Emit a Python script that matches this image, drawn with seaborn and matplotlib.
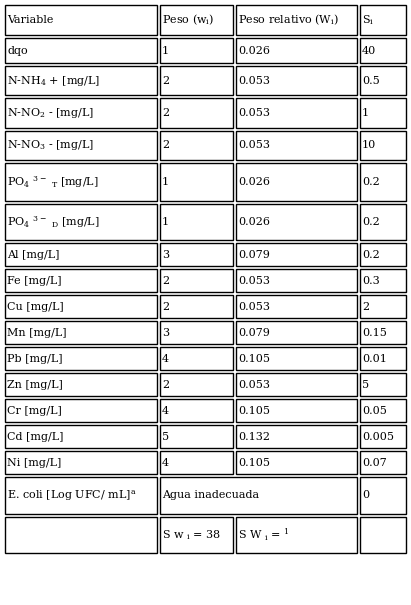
import matplotlib
matplotlib.use("Agg")
import matplotlib.pyplot as plt
import seaborn as sns
from matplotlib.patches import Rectangle

sns.set_style("white")
plt.rcParams['font.family'] = ['DejaVu Serif']
plt.rcParams['mathtext.default'] = 'regular'

# table content
variables = ["Variable", "dqo", "N-NH$_4$ + [mg/L]", "N-NO$_2$ - [mg/L]", "N-NO$_3$ - [mg/L]",
             "PO$_4$ $^{3-}$ $_T$ [mg/L]", "PO$_4$ $^{3-}$ $_D$ [mg/L]",
             "Al [mg/L]", "Fe [mg/L]", "Cu [mg/L]", "Mn [mg/L]", "Pb [mg/L]", "Zn [mg/L]",
             "Cr [mg/L]", "Cd [mg/L]", "Ni [mg/L]", "E. coli [Log UFC/ mL]$^a$", ""]
peso = ["Peso (w$_i$)", "1", "2", "2", "2", "1", "1", "3", "2", "2", "3", "4", "2", "4", "5", "4",
        "Agua inadecuada", "S w $_i$ = 38"]
peso_rel = ["Peso relativo (W$_i$)", "0.026", "0.053", "0.053", "0.053", "0.026", "0.026",
            "0.079", "0.053", "0.053", "0.079", "0.105", "0.053", "0.105", "0.132", "0.105",
            None, "S W $_i$ = $^1$"]
s_i = ["S$_i$", "40", "0.5", "1", "10", "0.2", "0.2", "0.2", "0.3", "2", "0.15", "0.01", "5",
       "0.05", "0.005", "0.07", "0", ""]

# layout (pixels)
col_edges = [(5, 157), (160, 233), (236, 357), (360, 406)]
row_edges = [(5, 35), (38, 63), (66, 95), (98, 128), (131, 160), (163, 201), (204, 240),
             (243, 266), (269, 292), (295, 318), (321, 344), (347, 370), (373, 396),
             (399, 422), (425, 448), (451, 474), (477, 514), (517, 553)]

fig = plt.figure(figsize=(4.11, 6.05), dpi=100)
ax = fig.add_axes([0, 0, 1, 1])
ax.set_xlim(0, 411)
ax.set_ylim(605, 0)
ax.axis("off")

for r, (y0, y1) in enumerate(row_edges):
    cells = [variables[r], peso[r], peso_rel[r], s_i[r]]
    c = 0
    while c < 4:
        x0, x1 = col_edges[c]
        span = 1
        if c + 1 < 4 and cells[c + 1] is None:
            x1 = col_edges[c + 1][1]
            span = 2
        ax.add_patch(Rectangle((x0, y0), x1 - x0, y1 - y0, fill=False,
                               edgecolor="black", linewidth=1.0))
        ax.text(x0 + 2, (y0 + y1) / 2, cells[c], ha="left", va="center",
                fontsize=8, color="black")
        c += span

fig.savefig("out.png", dpi=100, facecolor="white")
